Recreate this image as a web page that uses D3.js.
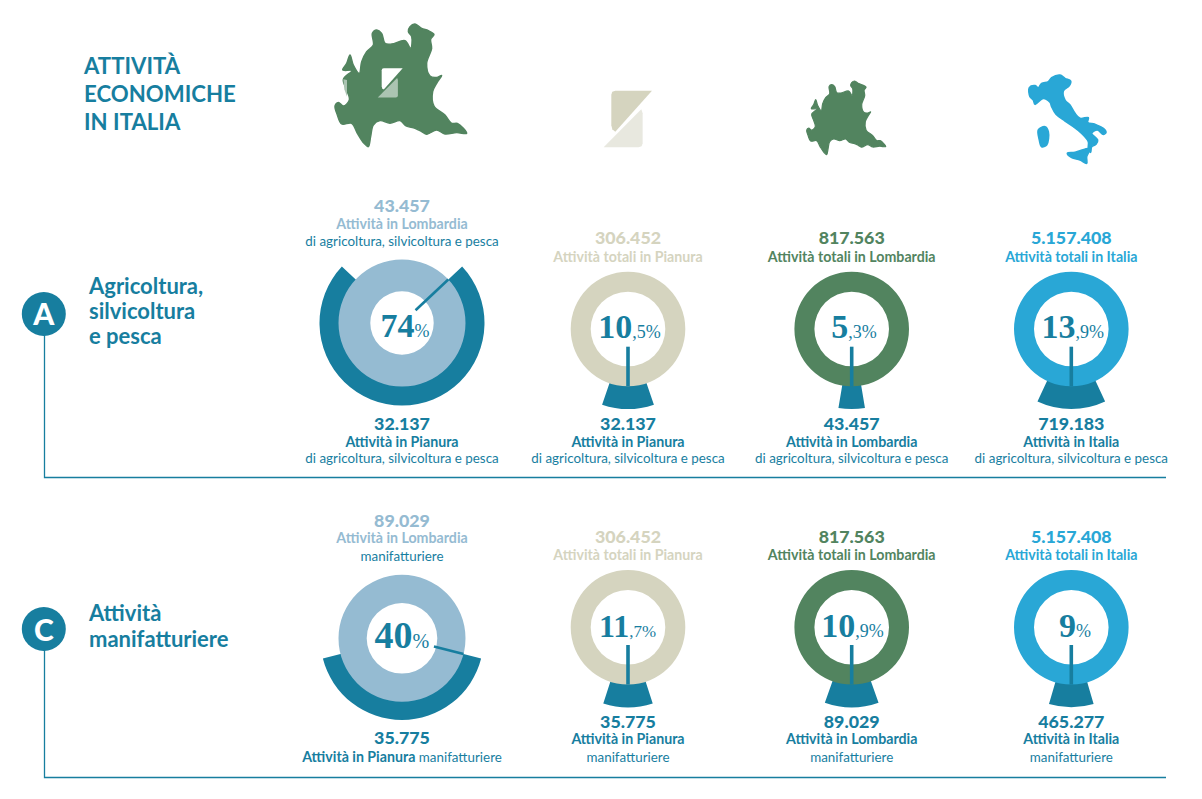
<!DOCTYPE html>
<html><head><meta charset="utf-8">
<script src="https://cdn.jsdelivr.net/npm/d3@7/dist/d3.min.js"></script>
<style>html,body{margin:0;padding:0;background:#fff}svg{display:block}text{font-family:Lato,sans-serif}</style>
</head><body><svg id="c" width="1202" height="799"></svg>
<script>
// ---- data ----
const titleLines = ["ATTIVITÀ","ECONOMICHE","IN ITALIA"];
const rowLetters = ["A","C"];
const rowTitles = [["Agricoltura,","silvicoltura","e pesca"],["Attività","manifatturiere"]];
const totalNumbers = [["43.457","306.452","817.563","5.157.408"],["89.029","306.452","817.563","5.157.408"]];
const totalLabels = [
 ["Attività in Lombardia","Attività totali in Pianura","Attività totali in Lombardia","Attività totali in Italia"],
 ["Attività in Lombardia","Attività totali in Pianura","Attività totali in Lombardia","Attività totali in Italia"]];
const totalNotes = [["di agricoltura, silvicoltura e pesca"],["manifatturiere"]];
const partNumbers = [["32.137","32.137","43.457","719.183"],["35.775","35.775","89.029","465.277"]];
const partLabels = [
 ["Attività in Pianura","Attività in Pianura","Attività in Lombardia","Attività in Italia"],
 ["Attività in Pianura","Attività in Pianura","Attività in Lombardia","Attività in Italia"]];
const partNotes = ["di agricoltura, silvicoltura e pesca","manifatturiere"];
const pctMain = [["74","10","5","13"],["40","11","10","9"]];
const pctDecimal = [["","5","3","9"],["","7","9",""]];
const shares = [[74,10.5,5.3,13.9],[42,10,10.9,9]]; // drawn share of the ring, %
const lombardyOutline = [[345,72],[365,85],[385,92],[402,103],[392,118],[395,145],[380,190],[390,228],[410,232],[425,226],[410,250],[398,275],[402,318],[435,345],[455,370],[472,370],[500,400],[470,398],[435,402],[410,390],[380,403],[365,395],[345,385],[318,378],[300,362],[270,370],[240,362],[220,375],[212,410],[205,440],[192,430],[172,400],[155,370],[125,372],[112,345],[105,318],[115,307],[130,318],[148,300],[140,270],[130,238],[155,212],[128,210],[140,190],[150,165],[160,195],[178,220],[185,185],[200,155],[220,135],[217,100],[230,90],[245,100],[255,130],[275,132],[315,122],[332,145],[335,110],[325,95],[330,80]];
const italyMain = [[28,68],[45,62],[55,68],[65,55],[85,50],[95,38],[120,30],[135,40],[152,48],[148,62],[130,78],[135,105],[150,120],[165,145],[180,160],[205,158],[203,172],[225,178],[250,190],[258,202],[250,208],[232,195],[215,205],[233,225],[228,238],[215,245],[212,262],[205,250],[205,230],[185,205],[160,185],[135,168],[108,148],[95,125],[90,112],[70,100],[45,118],[40,105],[30,95]];
const italySardinia = [[55,195],[75,185],[85,200],[80,240],[65,245],[58,225]];
const italySicily = [[142,265],[165,262],[210,250],[200,275],[200,295],[180,285],[155,278]];
const logoUpper = [[0,12],[3,3],[12,0],[122,0],[12,123],[3,116],[0,104]];
const logoLower = [[-23,170],[84,62],[90,56],[94,68],[94,158],[91,167],[82,170]];

// ---- layout & style ----
const TEAL="#177e9f", SKY="#95bbd2", SAND="#d5d4bf", SAND2="#e8e8df", GREEN="#52845f", BLUE="#29a7d6";
const colX=[402,628,851.7,1071.3];
const ringColors=[SKY,SAND,GREEN,BLUE];
const svg=d3.select("#c");
const text=(x,y,s,size,weight,fill,anchor="middle",g=svg)=>g.append("text").attr("x",x).attr("y",y)
  .attr("font-size",size).attr("font-weight",weight).attr("fill",fill).attr("text-anchor",anchor).text(s);

titleLines.forEach((t,i)=>text(84,[74,102,129.5][i],t,22.2,700,TEAL,"start"));

// ---- maps ----
function shape(pts,ox,oy,k,fill,curve=d3.curveCatmullRomClosed.alpha(.5)){
  const x=d3.scaleLinear().domain([0,1]).range([ox,ox+k]);
  const y=d3.scaleLinear().domain([0,1]).range([oy,oy+k]);
  const line=d3.line().x(d=>x(d[0])).y(d=>y(d[1])).curve(curve);
  return svg.append("path").attr("d",line(pts)).attr("fill",fill);
}
shape(lombardyOutline,300,0,1/3,GREEN).attr("stroke",GREEN).attr("stroke-width",1.4);
shape(lombardyOutline,806.7-105*.2,81-72*.2,.2,GREEN).attr("stroke",GREEN).attr("stroke-width",1.2);
[italyMain,italySardinia,italySicily].forEach(p=>shape(p,1020,65,1/3,BLUE).attr("stroke",BLUE).attr("stroke-width",1.6));
function logo(ox,oy,k,top,bottom){
  shape(logoUpper,ox,oy,k,top,d3.curveLinearClosed);
  shape(logoLower,ox,oy,k,bottom,d3.curveLinearClosed);
}
logo(611.3,90.7,1/3,SAND,SAND2);
logo(381.7,68.3,.172,"#fff","#abc4b2");
shape([[130,238],[141,240],[141,290],[133,268]],300,0,1/3,"#abc4b2",d3.curveLinearClosed);

// ---- rows ----
const rows=[
 {cy:323,cy2:329,badge:314,bl:325,line:477.5,titleY:[294,319,344],
  topY:[244,261.5],firstTop:[212,228.7,245.7],botY:[429.5,446.7,462.7],
  pctY:[336.7,338.3,338.3,338.3],pctX:[405,629.5,854,1072.7],pctSize:[34,34,34,34],inner:31.7,firstOuter:82.5,needle0:18.6},
 {cy:638.3,cy2:627.3,badge:629,bl:640.7,line:777.5,titleY:[621,646.5],
  topY:[543,559.5],firstTop:[526.7,543.3,561],botY:[728.3,744.3,761.7],
  pctY:[648.3,637.3,637.3,637.3],pctX:[402,627.5,852.5,1075],pctSize:[38,32,34,34],inner:35.3,firstOuter:81.7,needle0:33}
];
const angle=d3.scaleLinear().domain([0,100]).range([0,2*Math.PI]);
rows.forEach((r,ri)=>{
  svg.append("path").attr("fill","none").attr("stroke",TEAL).attr("stroke-width",1.3)
    .attr("d",d3.line()([[44.5,r.badge],[44.5,r.line],[1166,r.line]]));
  svg.append("circle").attr("cx",43.8).attr("cy",r.badge).attr("r",22).attr("fill",TEAL);
  text(43.8,r.bl,rowLetters[ri],30,900,"#fff");
  rowTitles[ri].forEach((t,i)=>text(89,r.titleY[i],t,22,700,TEAL,"start"));

  colX.forEach((cx,ci)=>{
    const first=ci===0, cy=first?r.cy:r.cy2;
    const ringOut=first?63.5:57.3, ringIn=first?r.inner:37.3, arcOut=first?r.firstOuter:80;
    const half=angle(shares[ri][ci])/2;
    const g=svg.append("g").attr("transform",`translate(${cx},${cy})`);
    const arc=d3.arc();
    g.append("path").attr("fill",TEAL).attr("d",arc({innerRadius:ringOut-4,outerRadius:arcOut,startAngle:Math.PI-half,endAngle:Math.PI+half}));
    g.append("path").attr("fill",ringColors[ci]).attr("d",arc({innerRadius:ringIn,outerRadius:ringOut,startAngle:0,endAngle:2*Math.PI}));
    const na=first?Math.PI-half:Math.PI, n0=first?r.needle0:17.7;
    g.append("line").attr("stroke",TEAL).attr("stroke-width",first?2.6:3.6)
      .attr("x1",n0*Math.sin(na)).attr("y1",-n0*Math.cos(na))
      .attr("x2",ringOut*Math.sin(na)).attr("y2",-ringOut*Math.cos(na));

    // percentage
    const big=r.pctSize[ci];
    const pct=text(r.pctX[ci],r.pctY[ci],"",big,700,TEAL);
    pct.style("font-family","'Liberation Serif',serif");
    pct.append("tspan").text(pctMain[ri][ci]);
    pct.append("tspan").attr("font-size",big*.53).attr("font-weight",400)
      .text((pctDecimal[ri][ci]?","+pctDecimal[ri][ci]:"")+"%");

    // upper labels
    const ty=first?r.firstTop:r.topY, col=ringColors[ci];
    text(cx,ty[0],totalNumbers[ri][ci],17.8,900,col);
    text(cx,ty[1],totalLabels[ri][ci],14.2,700,col);
    if(first) text(cx,ty[2],totalNotes[ri][0],13.4,400,TEAL);

    // lower labels
    text(cx,first&&ri===1?744.3:r.botY[0],partNumbers[ri][ci],17.8,900,TEAL);
    if(first&&ri===1){
      const t=text(cx,761.7,"",14.2,700,TEAL);
      t.append("tspan").text(partLabels[ri][ci]+" ");
      t.append("tspan").attr("font-weight",400).attr("font-size",13.4).text(partNotes[ri]);
    } else {
      text(cx,r.botY[1],partLabels[ri][ci],14.2,700,TEAL);
      text(cx,r.botY[2],partNotes[ri],13.4,400,TEAL);
    }
  });
});
</script></body></html>
